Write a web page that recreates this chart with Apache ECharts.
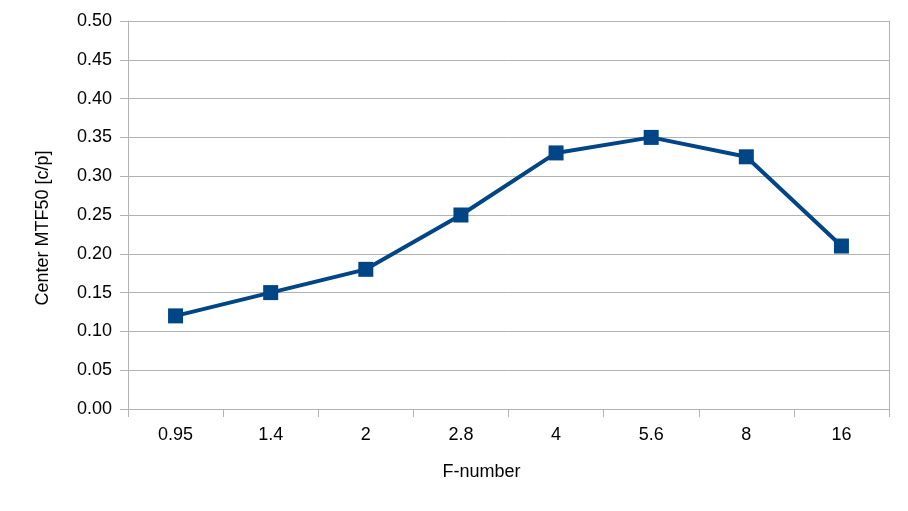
<!DOCTYPE html>
<html><head><meta charset="utf-8">
<script src="https://cdn.jsdelivr.net/npm/echarts@6/dist/echarts.min.js"></script>
<style>html,body{margin:0;padding:0;background:#fff}#c{width:908px;height:511px}</style>
</head><body><div id="c"></div>
<script>
const categories = ['0.95','1.4','2','2.8','4','5.6','8','16'];
const mtf50 = [0.12, 0.15, 0.18, 0.25, 0.33, 0.35, 0.325, 0.21];
const xTitle = 'F-number';
const yTitle = 'Center MTF50 [c/p]';

const chart = echarts.init(document.getElementById('c'), null, {renderer:'canvas'});
const gray = '#b3b3b3';
const font = 'Liberation Sans';
chart.setOption({
  animation: false,
  backgroundColor: '#ffffff',
  grid: {left: 128, right: 19, top: 21, bottom: 102, containLabel: false},
  xAxis: {
    type: 'category', data: categories, boundaryGap: true,
    name: xTitle, nameLocation: 'middle', nameGap: 54,
    nameTextStyle: {fontFamily: font, fontSize: 18, color: '#000', padding: [0, 54, 0, 0]},
    axisLine: {show: true, lineStyle: {color: gray, width: 1}},
    axisTick: {show: true, length: 8, lineStyle: {color: gray}},
    axisLabel: {fontFamily: font, fontSize: 18, color: '#000', margin: 17},
    splitLine: {show: false}
  },
  yAxis: [{
    type: 'value', min: 0, max: 0.5, interval: 0.05,
    name: yTitle, nameLocation: 'middle', nameGap: 76, nameRotate: 90,
    nameTextStyle: {fontFamily: font, fontSize: 18, color: '#000', padding: [0, 26, 0, 0]},
    axisLine: {show: true, lineStyle: {color: gray, width: 1}},
    axisTick: {show: true, length: 8, lineStyle: {color: gray}},
    axisLabel: {fontFamily: font, fontSize: 18, color: '#000', margin: 16,
      formatter: v => v.toFixed(2)},
    splitLine: {show: true, lineStyle: {color: gray, width: 1}}
  }, {
    type: 'value', min: 0, max: 0.5, position: 'right',
    axisLine: {show: true, lineStyle: {color: gray, width: 1}},
    axisTick: {show: false}, axisLabel: {show: false}, splitLine: {show: false}
  }],
  series: [{
    type: 'line', data: mtf50, yAxisIndex: 0,
    symbol: 'rect', symbolSize: 15,
    lineStyle: {color: '#004586', width: 4},
    itemStyle: {color: '#004586'}
  }]
});
</script></body></html>
